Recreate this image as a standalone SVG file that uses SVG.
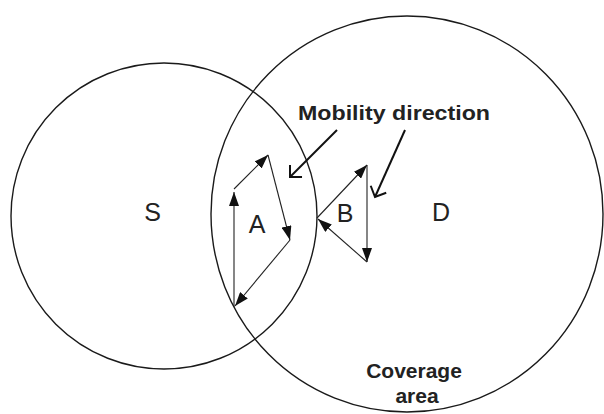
<svg xmlns="http://www.w3.org/2000/svg" width="604" height="414" viewBox="0 0 604 414">
  <style>
    .area { fill: none; stroke: #1a1a1a; stroke-width: 1.4; }
    .move { fill: none; stroke: #222; stroke-width: 1.1; marker-end: url(#solid); }
    .dir { fill: none; stroke: #111; stroke-width: 2; marker-end: url(#open); }
    .lbl { font-family: "Liberation Sans", Arial, sans-serif; font-size: 25px; fill: #222; text-anchor: middle; }
    .bold { font-family: "Liberation Sans", Arial, sans-serif; font-size: 21px; font-weight: bold; fill: #222; text-anchor: middle; }
  </style>
  <defs>
    <marker id="solid" markerUnits="userSpaceOnUse" markerWidth="14" markerHeight="10" refX="14" refY="5" orient="auto" viewBox="0 0 14 10">
      <path d="M0,0 L14,5 L0,10 z" fill="#111"/>
    </marker>
    <marker id="open" markerUnits="userSpaceOnUse" markerWidth="16" markerHeight="20" refX="13" refY="10" orient="auto" viewBox="0 0 16 20">
      <path d="M4.5,1.5 L13,10 L4.5,18.5" fill="none" stroke="#111" stroke-width="2"/>
    </marker>
  </defs>
  <rect width="604" height="414" fill="#ffffff"/>

  <g id="node-S">
    <circle class="area" cx="164" cy="216" r="153"/>
    <text class="lbl" x="152.5" y="221">S</text>
  </g>
  <g id="node-D">
    <ellipse class="area" cx="407" cy="214" rx="196" ry="198"/>
    <text class="lbl" x="441" y="221">D</text>
  </g>
  <g id="node-A">
    <text class="lbl" x="257" y="233">A</text>
  </g>
  <g id="node-B">
    <text class="lbl" x="345" y="222">B</text>
  </g>
  <g id="label-mobility">
    <text class="bold" x="394" y="120" textLength="192" lengthAdjust="spacingAndGlyphs">Mobility direction</text>
  </g>
  <g id="label-coverage">
    <text class="bold" x="414" y="378">Coverage</text>
    <text class="bold" x="417" y="403">area</text>
  </g>

  <g id="connectors">
    <!-- path A -->
    <line class="move" x1="234" y1="307" x2="234" y2="192"/>
    <line class="move" x1="234" y1="189" x2="268" y2="155"/>
    <line class="move" x1="268" y1="155" x2="290" y2="240"/>
    <line class="move" x1="290" y1="240" x2="235" y2="306"/>
    <!-- path B -->
    <line class="move" x1="317" y1="218" x2="367" y2="165"/>
    <line class="move" x1="367" y1="165" x2="367" y2="262"/>
    <line class="move" x1="367" y1="262" x2="318" y2="219"/>
    <!-- mobility direction pointers -->
    <line class="dir" x1="337" y1="130" x2="290" y2="177"/>
    <line class="dir" x1="405" y1="130" x2="375" y2="197"/>
  </g>
</svg>
